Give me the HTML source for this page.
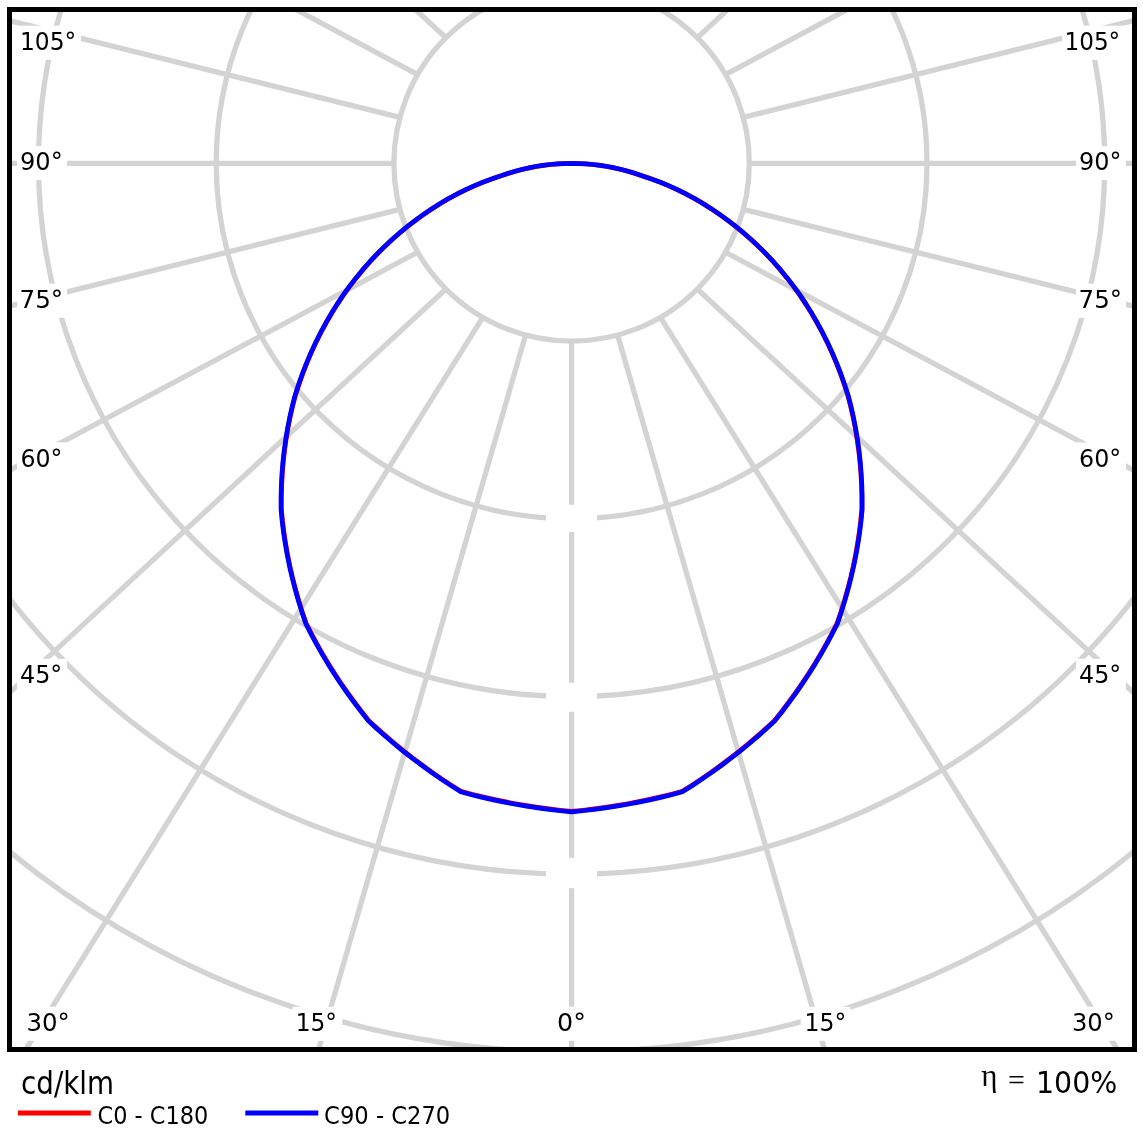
<!DOCTYPE html>
<html><head><meta charset="utf-8"><title>Polar diagram</title>
<style>html,body{margin:0;padding:0;background:#fff}svg{display:block}text{font-family:"DejaVu Sans Condensed","DejaVu Sans","Liberation Sans",sans-serif;fill:#000}text.s{font-family:"Liberation Serif","DejaVu Serif",serif}</style></head><body>
<svg width="1143" height="1143" viewBox="0 0 1143 1143">
<rect width="1143" height="1143" fill="#fff"/>
<defs><clipPath id="c"><rect x="9" y="9" width="1126" height="1041"/></clipPath></defs>
<g clip-path="url(#c)">
<g fill="none" stroke="#d3d3d3" stroke-width="5.3">
<circle cx="571.6" cy="163.4" r="177.7"/>
<circle cx="571.6" cy="163.4" r="355.4"/>
<circle cx="571.6" cy="163.4" r="533.1"/>
<circle cx="571.6" cy="163.4" r="710.8"/>
<circle cx="571.6" cy="163.4" r="888.5"/>
<line x1="525.61" y1="335.05" x2="80.46" y2="1871.87"/>
<line x1="617.59" y1="335.05" x2="1062.74" y2="1871.87"/>
<line x1="482.75" y1="317.29" x2="-364.38" y2="1674.63"/>
<line x1="660.45" y1="317.29" x2="1507.58" y2="1674.63"/>
<line x1="445.95" y1="289.05" x2="-728.57" y2="1375.56"/>
<line x1="697.25" y1="289.05" x2="1871.77" y2="1375.56"/>
<line x1="417.71" y1="252.25" x2="-993.61" y2="1006.02"/>
<line x1="725.49" y1="252.25" x2="2136.81" y2="1006.02"/>
<line x1="399.95" y1="209.39" x2="-1153.05" y2="594.34"/>
<line x1="743.25" y1="209.39" x2="2296.25" y2="594.34"/>
<line x1="393.90" y1="163.40" x2="-1206.10" y2="163.40"/>
<line x1="749.30" y1="163.40" x2="2349.30" y2="163.40"/>
<line x1="399.95" y1="117.41" x2="-1153.05" y2="-267.54"/>
<line x1="743.25" y1="117.41" x2="2296.25" y2="-267.54"/>
<line x1="417.71" y1="74.55" x2="-993.61" y2="-679.22"/>
<line x1="725.49" y1="74.55" x2="2136.81" y2="-679.22"/>
<line x1="445.95" y1="37.75" x2="-728.57" y2="-1048.76"/>
<line x1="697.25" y1="37.75" x2="1871.77" y2="-1048.76"/>
<line x1="482.75" y1="9.51" x2="-364.38" y2="-1347.83"/>
<line x1="660.45" y1="9.51" x2="1507.58" y2="-1347.83"/>
<line x1="525.61" y1="-8.25" x2="80.46" y2="-1545.07"/>
<line x1="617.59" y1="-8.25" x2="1062.74" y2="-1545.07"/>
<line x1="571.6" y1="341.1" x2="571.6" y2="1100"/>
</g>
<rect x="17.0" y="25.7" width="63.8" height="34.1" fill="#fff"/>
<rect x="1062.2" y="25.7" width="63.8" height="34.1" fill="#fff"/>
<rect x="17.0" y="146.1" width="50.1" height="34.1" fill="#fff"/>
<rect x="1075.9" y="146.1" width="50.1" height="34.1" fill="#fff"/>
<rect x="17.0" y="283.7" width="50.1" height="34.1" fill="#fff"/>
<rect x="1075.9" y="283.7" width="50.1" height="34.1" fill="#fff"/>
<rect x="17.0" y="442.4" width="50.1" height="34.1" fill="#fff"/>
<rect x="1075.9" y="442.4" width="50.1" height="34.1" fill="#fff"/>
<rect x="17.0" y="658.8" width="50.1" height="34.1" fill="#fff"/>
<rect x="1075.9" y="658.8" width="50.1" height="34.1" fill="#fff"/>
<rect x="24.0" y="1006.7" width="50.6" height="34.1" fill="#fff"/>
<rect x="1068.4" y="1006.7" width="50.6" height="34.1" fill="#fff"/>
<rect x="292.6" y="1006.8" width="49.7" height="34.1" fill="#fff"/>
<rect x="800.7" y="1006.8" width="49.7" height="34.1" fill="#fff"/>
<rect x="553.5" y="1006.7" width="37.0" height="34.1" fill="#fff"/>
<rect x="546.0" y="504.8" width="51.0" height="27.2" fill="#fff"/>
<rect x="546.0" y="682.8" width="51.0" height="28.9" fill="#fff"/>
<rect x="546.0" y="857.8" width="51.0" height="30.3" fill="#fff"/>
<path d="M571.60,163.40 L564.90,163.52 L557.71,163.89 L550.53,164.50 L543.37,165.37 L536.24,166.49 L529.13,167.86 L522.07,169.48 L515.06,171.35 L508.09,173.46 L501.19,175.82 L492.19,178.84 L483.27,182.17 L474.46,185.83 L465.74,189.79 L457.14,194.07 L448.65,198.65 L440.30,203.54 L432.08,208.73 L424.00,214.22 L416.08,220.00 L407.94,226.22 L399.98,232.74 L392.19,239.55 L384.60,246.66 L377.20,254.05 L370.00,261.73 L363.02,269.68 L356.25,277.90 L349.71,286.40 L343.40,295.15 L337.42,304.11 L331.69,313.31 L326.20,322.76 L320.98,332.44 L316.02,342.36 L311.34,352.49 L306.93,362.84 L302.81,373.40 L298.98,384.17 L295.44,395.12 L292.66,405.88 L290.17,416.80 L287.98,427.88 L286.09,439.11 L284.51,450.49 L283.25,462.00 L282.30,473.64 L281.67,485.40 L281.36,497.28 L281.38,509.27 L282.46,520.46 L283.84,531.72 L285.53,543.03 L287.52,554.40 L289.83,565.81 L292.45,577.26 L295.39,588.73 L298.64,600.23 L302.21,611.74 L306.10,623.26 L311.16,633.25 L316.49,643.19 L322.09,653.10 L327.95,662.95 L334.09,672.74 L340.49,682.48 L347.16,692.14 L354.10,701.72 L361.31,711.22 L368.78,720.64 L377.09,728.31 L385.60,735.86 L394.31,743.28 L403.23,750.58 L412.35,757.73 L421.67,764.75 L431.18,771.62 L440.89,778.34 L450.79,784.91 L460.88,791.31 L471.69,794.18 L482.57,796.85 L493.52,799.34 L504.52,801.64 L515.58,803.75 L526.69,805.67 L537.85,807.40 L549.06,808.93 L560.31,810.26 L571.60,811.40 L582.89,810.26 L594.14,808.93 L605.35,807.40 L616.51,805.67 L627.62,803.75 L638.68,801.64 L649.68,799.34 L660.63,796.85 L671.51,794.18 L682.32,791.31 L692.41,784.91 L702.31,778.34 L712.02,771.62 L721.53,764.75 L730.85,757.73 L739.97,750.58 L748.89,743.28 L757.60,735.86 L766.11,728.31 L774.42,720.64 L781.89,711.22 L789.10,701.72 L796.04,692.14 L802.71,682.48 L809.11,672.74 L815.25,662.95 L821.11,653.10 L826.71,643.19 L832.04,633.25 L837.10,623.26 L840.99,611.74 L844.56,600.23 L847.81,588.73 L850.75,577.26 L853.37,565.81 L855.68,554.40 L857.67,543.03 L859.36,531.72 L860.74,520.46 L861.82,509.27 L861.84,497.28 L861.53,485.40 L860.90,473.64 L859.95,462.00 L858.69,450.49 L857.11,439.11 L855.22,427.88 L853.03,416.80 L850.54,405.88 L847.76,395.12 L844.22,384.17 L840.39,373.40 L836.27,362.84 L831.86,352.49 L827.18,342.36 L822.22,332.44 L817.00,322.76 L811.51,313.31 L805.78,304.11 L799.80,295.15 L793.49,286.40 L786.95,277.90 L780.18,269.68 L773.20,261.73 L766.00,254.05 L758.60,246.66 L751.01,239.55 L743.22,232.74 L735.26,226.22 L727.12,220.00 L719.20,214.22 L711.12,208.73 L702.90,203.54 L694.55,198.65 L686.06,194.07 L677.46,189.79 L668.74,185.83 L659.93,182.17 L651.01,178.84 L642.01,175.82 L635.11,173.46 L628.14,171.35 L621.13,169.48 L614.07,167.86 L606.96,166.49 L599.83,165.37 L592.67,164.50 L585.49,163.89 L578.30,163.52 L571.60,163.40" fill="none" stroke="#ff0000" stroke-width="4.7" stroke-linejoin="round"/>
<path d="M571.60,163.40 L564.40,163.53 L557.21,163.90 L550.03,164.53 L542.87,165.41 L535.74,166.54 L528.64,167.92 L521.58,169.54 L514.56,171.42 L507.60,173.54 L500.69,175.90 L491.70,178.93 L482.78,182.28 L473.97,185.94 L465.26,189.91 L456.65,194.20 L448.17,198.79 L439.82,203.69 L431.60,208.89 L423.53,214.38 L415.61,220.18 L407.48,226.40 L399.51,232.93 L391.73,239.75 L384.14,246.86 L376.74,254.26 L369.55,261.95 L362.57,269.91 L355.81,278.14 L349.27,286.64 L342.97,295.40 L336.99,304.37 L331.26,313.58 L325.79,323.03 L320.57,332.72 L315.61,342.64 L310.93,352.78 L306.53,363.14 L302.42,373.71 L298.59,384.48 L295.06,395.45 L292.28,406.21 L289.80,417.13 L287.62,428.22 L285.73,439.46 L284.16,450.84 L282.90,462.36 L281.96,474.01 L281.33,485.78 L281.03,497.66 L281.06,509.65 L282.14,520.85 L283.53,532.11 L285.23,543.43 L287.23,554.80 L289.54,566.22 L292.17,577.67 L295.11,589.15 L298.37,600.65 L301.95,612.17 L305.85,623.69 L310.92,633.68 L316.25,643.64 L321.86,653.54 L327.73,663.40 L333.88,673.20 L340.29,682.93 L346.97,692.60 L353.92,702.19 L361.13,711.69 L368.61,721.11 L376.92,728.78 L385.44,736.34 L394.17,743.76 L403.09,751.06 L412.22,758.22 L421.55,765.24 L431.07,772.11 L440.79,778.83 L450.70,785.40 L460.80,791.81 L471.62,794.67 L482.50,797.35 L493.45,799.84 L504.47,802.14 L515.53,804.25 L526.65,806.17 L537.82,807.90 L549.04,809.43 L560.30,810.76 L571.60,811.90 L582.90,810.76 L594.16,809.43 L605.38,807.90 L616.55,806.17 L627.67,804.25 L638.73,802.14 L649.75,799.84 L660.70,797.35 L671.58,794.67 L682.40,791.81 L692.50,785.40 L702.41,778.83 L712.13,772.11 L721.65,765.24 L730.98,758.22 L740.11,751.06 L749.03,743.76 L757.76,736.34 L766.28,728.78 L774.59,721.11 L782.07,711.69 L789.28,702.19 L796.23,692.60 L802.91,682.93 L809.32,673.20 L815.47,663.40 L821.34,653.54 L826.95,643.64 L832.28,633.68 L837.35,623.69 L841.25,612.17 L844.83,600.65 L848.09,589.15 L851.03,577.67 L853.66,566.22 L855.97,554.80 L857.97,543.43 L859.67,532.11 L861.06,520.85 L862.14,509.65 L862.17,497.66 L861.87,485.78 L861.24,474.01 L860.30,462.36 L859.04,450.84 L857.47,439.46 L855.58,428.22 L853.40,417.13 L850.92,406.21 L848.14,395.45 L844.61,384.48 L840.78,373.71 L836.67,363.14 L832.27,352.78 L827.59,342.64 L822.63,332.72 L817.41,323.03 L811.94,313.58 L806.21,304.37 L800.23,295.40 L793.93,286.64 L787.39,278.14 L780.63,269.91 L773.65,261.95 L766.46,254.26 L759.06,246.86 L751.47,239.75 L743.69,232.93 L735.72,226.40 L727.59,220.18 L719.67,214.38 L711.60,208.89 L703.38,203.69 L695.03,198.79 L686.55,194.20 L677.94,189.91 L669.23,185.94 L660.42,182.28 L651.50,178.93 L642.51,175.90 L635.60,173.54 L628.64,171.42 L621.62,169.54 L614.56,167.92 L607.46,166.54 L600.33,165.41 L593.17,164.53 L585.99,163.90 L578.80,163.53 L571.60,163.40" fill="none" stroke="#0000ff" stroke-width="4.7" stroke-linejoin="round"/>
</g>
<text id="L105" x="20.02" y="49.9" font-size="25.4" textLength="56.23" lengthAdjust="spacingAndGlyphs">105°</text>
<text id="R105" x="1064.48" y="49.9" font-size="25.4" textLength="55.70" lengthAdjust="spacingAndGlyphs">105°</text>
<text id="L90" x="20.03" y="170.3" font-size="25.4" textLength="42.68" lengthAdjust="spacingAndGlyphs">90°</text>
<text id="R90" x="1078.98" y="170.3" font-size="25.4" textLength="42.39" lengthAdjust="spacingAndGlyphs">90°</text>
<text id="L75" x="19.61" y="307.9" font-size="25.4" textLength="43.55" lengthAdjust="spacingAndGlyphs">75°</text>
<text id="R75" x="1078.59" y="307.9" font-size="25.4" textLength="43.41" lengthAdjust="spacingAndGlyphs">75°</text>
<text id="L60" x="20.43" y="466.6" font-size="25.4" textLength="41.92" lengthAdjust="spacingAndGlyphs">60°</text>
<text id="R60" x="1079.13" y="466.6" font-size="25.4" textLength="42.11" lengthAdjust="spacingAndGlyphs">60°</text>
<text id="L45" x="20.07" y="683.0" font-size="25.4" textLength="42.17" lengthAdjust="spacingAndGlyphs">45°</text>
<text id="R45" x="1079.07" y="683.0" font-size="25.4" textLength="42.10" lengthAdjust="spacingAndGlyphs">45°</text>
<text id="L30" x="26.46" y="1030.9" font-size="25.4" textLength="43.29" lengthAdjust="spacingAndGlyphs">30°</text>
<text id="R30" x="1071.96" y="1030.9" font-size="25.4" textLength="42.83" lengthAdjust="spacingAndGlyphs">30°</text>
<text id="L15" x="295.66" y="1031.0" font-size="25.4" textLength="41.25" lengthAdjust="spacingAndGlyphs">15°</text>
<text id="R15" x="804.52" y="1031.0" font-size="25.4" textLength="41.68" lengthAdjust="spacingAndGlyphs">15°</text>
<text id="L0" x="556.99" y="1030.9" font-size="25.4" textLength="28.84" lengthAdjust="spacingAndGlyphs">0°</text>
<text id="cd" x="21.10" y="1093.8" font-size="32" textLength="92.97" lengthAdjust="spacingAndGlyphs">cd/klm</text>
<text id="c0" x="97.52" y="1124.4" font-size="25.2" textLength="110.71" lengthAdjust="spacingAndGlyphs">C0 - C180</text>
<text id="c90" x="324.12" y="1124.4" font-size="25.2" textLength="126.14" lengthAdjust="spacingAndGlyphs">C90 - C270</text>
<text id="eta" class="s" x="981.30" y="1086.3" font-size="31">η</text>
<text id="eq" class="s" x="1008.00" y="1089.7" font-size="30">=</text>
<text id="pct" x="1036.03" y="1093.2" font-size="30" textLength="81.27" lengthAdjust="spacingAndGlyphs">100%</text>
<rect x="9.5" y="9.5" width="1125" height="1040" fill="none" stroke="#000" stroke-width="5"/>
<line x1="17.9" y1="1112.9" x2="90.8" y2="1112.9" stroke="#ff0000" stroke-width="5"/>
<line x1="245.3" y1="1112.9" x2="318.3" y2="1112.9" stroke="#0000ff" stroke-width="5"/>
</svg></body></html>
